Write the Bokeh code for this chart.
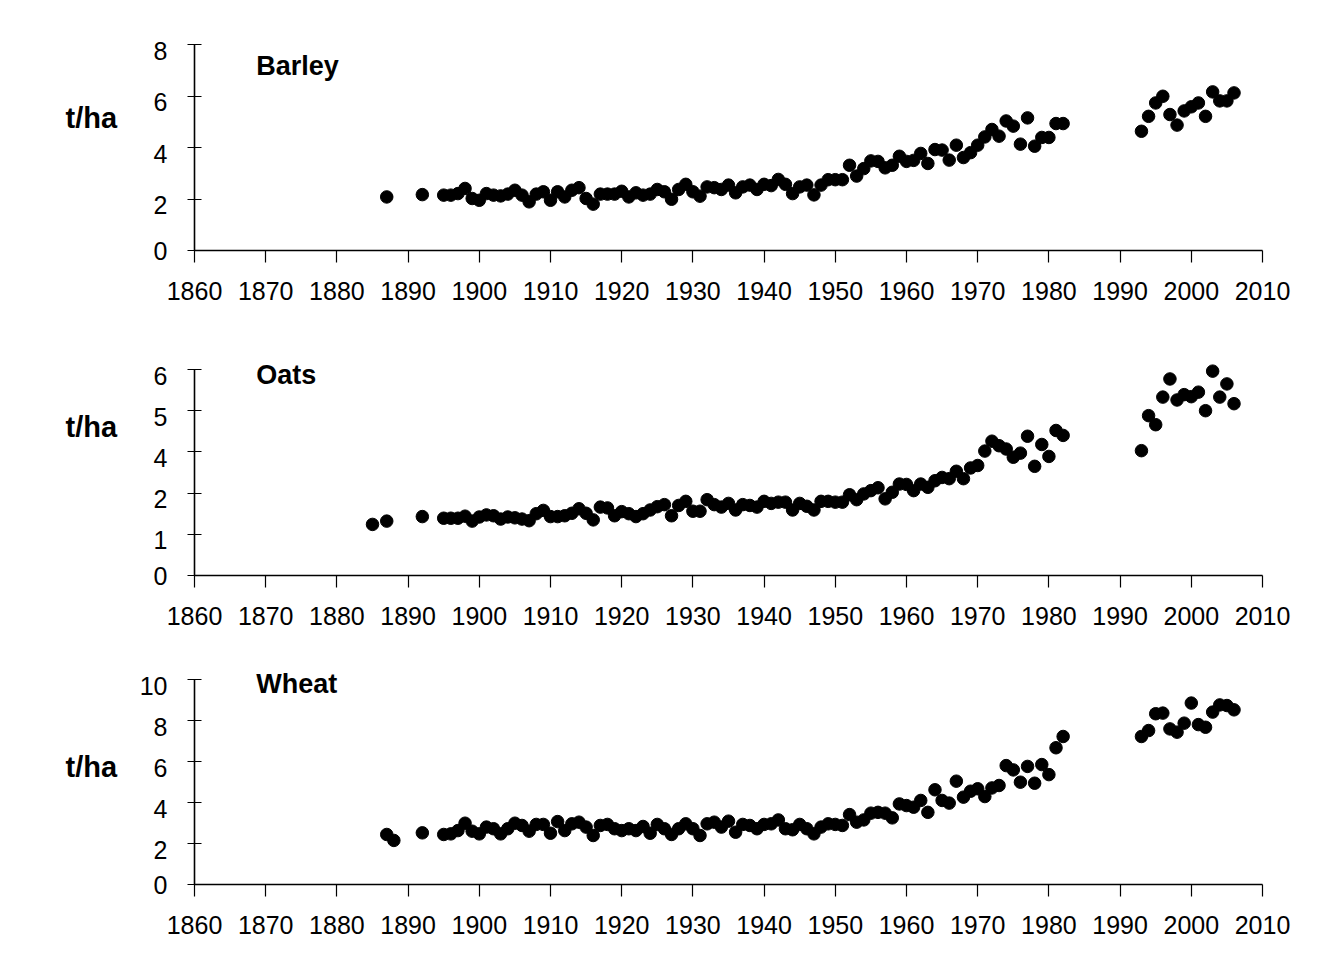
from bokeh.plotting import figure
from bokeh.layouts import column, row
from bokeh.models import Range1d, FixedTicker, Label, LinearAxis, CustomJSTickFormatter
from bokeh.embed import file_html
from bokeh.resources import INLINE

# ---------------- data (t/ha) ----------------
barley_years = [1887, 1892] + list(range(1895, 1983)) + list(range(1993, 2007))
barley_yield = [2.08, 2.17,
    2.15, 2.15, 2.21, 2.41, 2.02, 1.95, 2.21, 2.15, 2.12, 2.19,
    2.34, 2.15, 1.89, 2.19, 2.28, 1.95, 2.28, 2.08, 2.34, 2.44,
    2.02, 1.80, 2.19, 2.19, 2.19, 2.30, 2.08, 2.24, 2.15, 2.19,
    2.37, 2.28, 1.99, 2.37, 2.57, 2.28, 2.11, 2.47, 2.44, 2.37,
    2.54, 2.24, 2.47, 2.54, 2.37, 2.57, 2.52, 2.76, 2.57, 2.21,
    2.47, 2.54, 2.16, 2.54, 2.75, 2.75, 2.75, 3.31, 2.89, 3.18,
    3.48, 3.46, 3.21, 3.31, 3.66, 3.46, 3.50, 3.77, 3.38, 3.92,
    3.90, 3.51, 4.09, 3.61, 3.80, 4.09, 4.41, 4.70, 4.44, 5.03,
    4.83, 4.13, 5.15, 4.05, 4.39, 4.39, 4.93, 4.93,
    4.63, 5.21, 5.73, 5.99, 5.28, 4.87, 5.42, 5.58, 5.73, 5.21, 6.16, 5.81, 5.81, 6.12]

# oats: values in the evenly spaced tick positions of the drawn axis
oats_years = [1885, 1887, 1892] + list(range(1895, 1983)) + list(range(1993, 2007))
oats_yield = [1.24, 1.32, 1.43,
    1.39, 1.39, 1.39, 1.44, 1.32, 1.42, 1.47, 1.45, 1.37, 1.42,
    1.40, 1.37, 1.33, 1.50, 1.58, 1.43, 1.43, 1.45, 1.51, 1.62,
    1.51, 1.35, 1.66, 1.64, 1.45, 1.55, 1.50, 1.43, 1.50, 1.59,
    1.67, 1.72, 1.45, 1.70, 1.80, 1.56, 1.56, 1.84, 1.72, 1.66,
    1.75, 1.59, 1.72, 1.70, 1.66, 1.80, 1.75, 1.78, 1.78, 1.59,
    1.75, 1.68, 1.59, 1.80, 1.80, 1.78, 1.78, 1.96, 1.84, 1.98,
    2.06, 2.13, 1.86, 2.02, 2.22, 2.21, 2.06, 2.22, 2.14, 2.30,
    2.38, 2.35, 2.53, 2.35, 2.61, 2.67, 3.02, 3.26, 3.15, 3.07,
    2.87, 2.97, 3.38, 2.65, 3.18, 2.89, 3.52, 3.40,
    3.03, 3.88, 3.66, 4.33, 4.77, 4.26, 4.39, 4.34, 4.45, 4.00, 4.96, 4.33, 4.65, 4.17]

wheat_years = [1887, 1888, 1892] + list(range(1895, 1983)) + list(range(1993, 2007))
wheat_yield = [2.44, 2.15, 2.52,
    2.44, 2.47, 2.63, 2.99, 2.60, 2.47, 2.80, 2.72, 2.47, 2.72,
    2.99, 2.88, 2.60, 2.93, 2.93, 2.50, 3.07, 2.63, 2.96, 3.04,
    2.80, 2.39, 2.88, 2.93, 2.72, 2.63, 2.72, 2.63, 2.83, 2.50,
    2.93, 2.72, 2.44, 2.72, 2.96, 2.72, 2.39, 2.96, 3.04, 2.80,
    3.09, 2.55, 2.93, 2.88, 2.72, 2.93, 2.96, 3.15, 2.72, 2.67,
    2.93, 2.72, 2.47, 2.80, 2.96, 2.93, 2.88, 3.41, 3.04, 3.15,
    3.48, 3.52, 3.48, 3.25, 3.93, 3.85, 3.77, 4.10, 3.52, 4.62,
    4.10, 3.97, 5.04, 4.26, 4.55, 4.67, 4.29, 4.71, 4.83, 5.80,
    5.59, 4.99, 5.76, 4.94, 5.85, 5.36, 6.67, 7.22,
    7.22, 7.51, 8.33, 8.36, 7.59, 7.43, 7.87, 8.85, 7.80, 7.67, 8.41, 8.76, 8.73, 8.52]

x_ticks = [1860, 1870, 1880, 1890, 1900, 1910, 1920, 1930, 1940, 1950, 1960, 1970, 1980, 1990, 2000, 2010]
barley_ticks = [0, 2, 4, 6, 8]
barley_tick_labels = ["0", "2", "4", "6", "8"]
oats_ticks = [0, 1, 2, 3, 4, 5]
oats_tick_labels = ["0", "1", "2", "4", "5", "6"]
wheat_ticks = [0, 2, 4, 6, 8, 10]
wheat_tick_labels = ["0", "2", "4", "6", "8", "10"]
crop_names = ["Barley", "Oats", "Wheat"]
unit_label = "t/ha"

FONT = "Liberation Sans"
LEFT_W = 128          # width of the strip that holds the "t/ha" texts
TOTAL_W = 1330
HEIGHTS = [325, 325, 309]
PAD = 8               # px of free frame above the top tick (so dots are not cut)
LABEL_DROP = 6        # the tick labels sit a little below their ticks


def panel(years, values, y_end, ticks, tick_labels, name, height, tick_top, span_px, name_px):
    upp = y_end / span_px                     # data units per pixel
    p = figure(width=TOTAL_W - LEFT_W, height=height, output_backend="svg", toolbar_location=None,
               x_range=Range1d(1860, 2010), y_range=Range1d(0, y_end + PAD * upp),
               min_border_left=194 - LEFT_W, min_border_right=68,
               min_border_top=tick_top - PAD, min_border_bottom=75)
    p.outline_line_color = None
    p.grid.visible = False
    p.background_fill_color = "white"
    p.border_fill_color = "white"

    p.xaxis.ticker = FixedTicker(ticks=x_ticks, minor_ticks=[])
    p.yaxis.ticker = FixedTicker(ticks=ticks, minor_ticks=[])
    p.yaxis.bounds = (0, y_end)
    p.yaxis.major_label_overrides = {t: "" for t in ticks}
    p.yaxis.major_label_standoff = 0

    for ax in (p.xaxis, p.yaxis):
        ax.axis_line_color = "black"
        ax.axis_line_width = 1.6
        ax.major_tick_line_color = "black"
        ax.major_tick_line_width = 1.2
        ax.minor_tick_line_color = None
        ax.major_label_text_font = FONT
        ax.major_label_text_font_size = "25px"
        ax.major_label_text_color = "black"
    p.xaxis.major_tick_in = 0
    p.xaxis.major_tick_out = 12
    p.xaxis.major_label_standoff = 19
    p.yaxis.major_tick_in = 7
    p.yaxis.major_tick_out = 7

    # label-only axis: labels sit slightly below their ticks (the "0" stays on the axis line)
    drop = LABEL_DROP * upp
    label_pos = [t if t == 0 else t - drop for t in ticks]
    lab = LinearAxis(ticker=FixedTicker(ticks=label_pos, minor_ticks=[]),
                     formatter=CustomJSTickFormatter(
                         args=dict(pos=label_pos, labels=tick_labels),
                         code="""
                            let best = 0;
                            for (let i = 0; i < pos.length; i++) {
                                if (Math.abs(pos[i] - tick) < Math.abs(pos[best] - tick)) best = i;
                            }
                            return labels[best];
                         """),
                     axis_line_color=None, major_tick_line_color=None, minor_tick_line_color=None,
                     major_tick_in=0, major_tick_out=0, major_label_standoff=20,
                     major_label_text_font=FONT, major_label_text_font_size="25px",
                     major_label_text_color="black")
    p.add_layout(lab, "left")

    p.scatter(years, values, size=12.5, color="black")

    p.add_layout(Label(x=1868.67, y=(tick_top + span_px - name_px) * upp, text=name, text_font=FONT,
                       text_font_size="27px", text_font_style="bold",
                       text_color="black", text_align="left", text_baseline="alphabetic"))
    return p


# name_px: screen y (within the panel's figure) of the crop name baseline
p1 = panel(barley_years, barley_yield, 8, barley_ticks, barley_tick_labels, crop_names[0], HEIGHTS[0], 44, 206, 65)
p2 = panel(oats_years, oats_yield, 5, oats_ticks, oats_tick_labels, crop_names[1], HEIGHTS[1], 44, 206, 374 - 325)
p3 = panel(wheat_years, wheat_yield, 10, wheat_ticks, wheat_tick_labels, crop_names[2], HEIGHTS[2], 29, 205, 683 - 650)

# left strip with the unit texts (screen-like coordinates, y downwards)
total_h = sum(HEIGHTS)
side = figure(width=LEFT_W, height=total_h, output_backend="svg", toolbar_location=None,
              x_range=Range1d(0, LEFT_W), y_range=Range1d(total_h, 0),
              min_border_left=0, min_border_right=0, min_border_top=0, min_border_bottom=0)
side.axis.visible = False
side.grid.visible = False
side.outline_line_color = None
for base_y in (117, 426, 766):
    side.add_layout(Label(x=65, y=base_y, text=unit_label, text_font=FONT,
                          text_font_size="29px", text_font_style="bold",
                          text_color="black", text_align="left", text_baseline="alphabetic"))

layout = row(side, column(p1, p2, p3, spacing=0), spacing=0)
open("out.html", "w").write(file_html(layout, INLINE))
